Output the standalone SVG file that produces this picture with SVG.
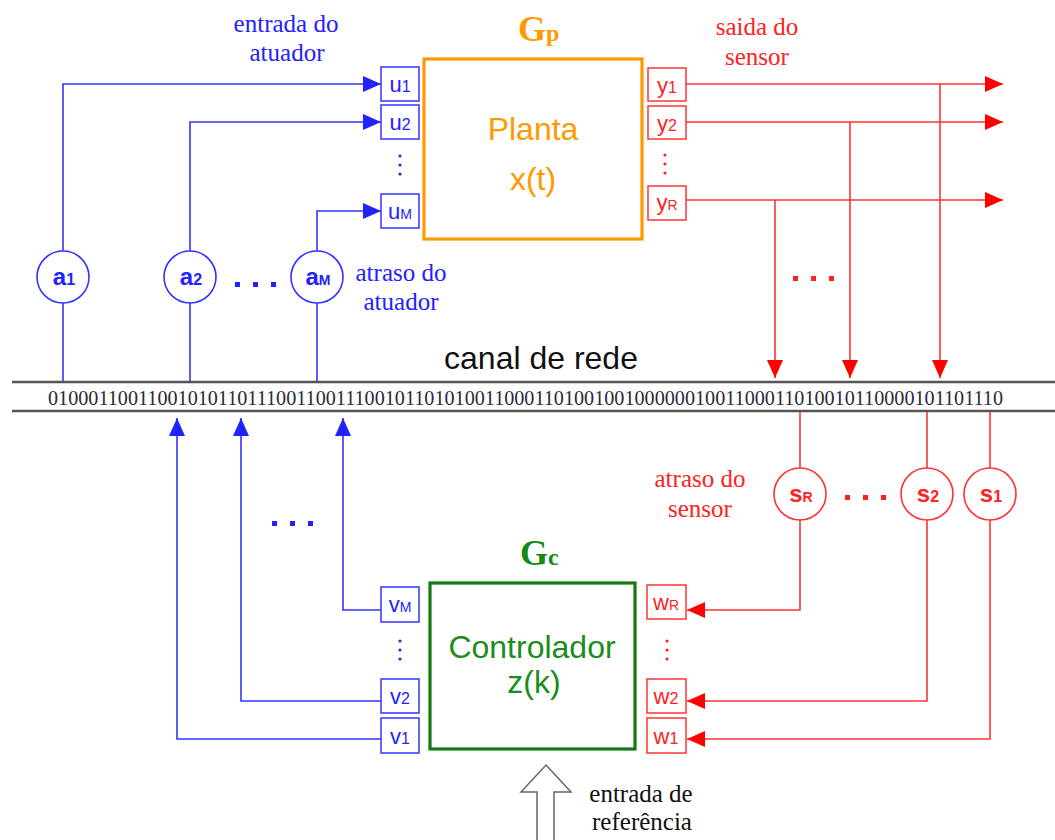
<svg xmlns="http://www.w3.org/2000/svg" width="1055" height="840" viewBox="0 0 1055 840">
<defs>
<style>
.bl{stroke:#3333ff;stroke-width:1.6;fill:none}
.rd{stroke:#ff3333;stroke-width:1.6;fill:none}
.pb{fill:#fff;stroke:#3333ff;stroke-width:1.5}
.pr{fill:#fff;stroke:#ff3333;stroke-width:1.5}
.cb{fill:#fff;stroke:#3333ff;stroke-width:1.6}
.cr{fill:#fff;stroke:#ff3333;stroke-width:1.6}
.tb{fill:#2222ff;font-family:"Liberation Sans",Arial,sans-serif;font-size:22px;text-anchor:middle}
.tr{fill:#ff2222;font-family:"Liberation Sans",Arial,sans-serif;font-size:22px;text-anchor:middle}
.bold{font-weight:bold;font-size:24px}
.sub{font-size:16px}
.subc{font-size:14px}
.lab{font-family:"Liberation Serif","Times New Roman",serif;font-size:25px;text-anchor:middle}
.big{font-family:"Liberation Sans",Arial,sans-serif;font-size:32px;text-anchor:middle}
.dotb{fill:#2222ff}
.dotr{fill:#ff2222}
.chan{stroke:#555;stroke-width:2.5}
</style>
<marker id="ab" markerUnits="userSpaceOnUse" markerWidth="18" markerHeight="16" refX="18" refY="8" orient="auto"><path d="M0,0 L18,8 L0,16 z" fill="#2222ff"/></marker>
<marker id="ar" markerUnits="userSpaceOnUse" markerWidth="18" markerHeight="16" refX="18" refY="8" orient="auto"><path d="M0,0 L18,8 L0,16 z" fill="#ff0000"/></marker>
</defs>
<rect width="1055" height="840" fill="#fff"/>

<g id="connectors">
<path class="bl" d="M63,251 V84 H381" marker-end="url(#ab)"/>
<path class="bl" d="M190,251 V122 H381" marker-end="url(#ab)"/>
<path class="bl" d="M317,251 V211 H381" marker-end="url(#ab)"/>
<path class="bl" d="M63,303 V382"/>
<path class="bl" d="M190,303 V382"/>
<path class="bl" d="M317,303 V382"/>
<path class="rd" d="M686,84 H1003" marker-end="url(#ar)"/>
<path class="rd" d="M686,122 H1003" marker-end="url(#ar)"/>
<path class="rd" d="M686,200 H1003" marker-end="url(#ar)"/>
<path class="rd" d="M940,84 V378" marker-end="url(#ar)"/>
<path class="rd" d="M850,122 V378" marker-end="url(#ar)"/>
<path class="rd" d="M775,200 V378" marker-end="url(#ar)"/>
<path class="bl" d="M381,739 H177 V418" marker-end="url(#ab)"/>
<path class="bl" d="M381,701 H241 V418" marker-end="url(#ab)"/>
<path class="bl" d="M381,610 H343 V418" marker-end="url(#ab)"/>
<path class="rd" d="M800,412 V468"/>
<path class="rd" d="M927,412 V468"/>
<path class="rd" d="M990,412 V468"/>
<path class="rd" d="M800,520 V610 H687" marker-end="url(#ar)"/>
<path class="rd" d="M927,520 V701 H687" marker-end="url(#ar)"/>
<path class="rd" d="M990,520 V739 H687" marker-end="url(#ar)"/>
</g>

<g id="channel">
<line class="chan" x1="12" y1="382" x2="1055" y2="382"/>
<line class="chan" x1="12" y1="411" x2="1055" y2="411"/>
<text x="48" y="405" font-family="Liberation Serif,'Times New Roman',serif" font-size="20" fill="#2a2a3a" textLength="955" lengthAdjust="spacingAndGlyphs">010001100110010101101110011001110010110101001100011010010010000001001100011010010110000101101110</text>
<text x="541" y="369" class="big" fill="#111">canal de rede</text>
</g>

<g id="plant">
<rect x="424" y="59" width="218" height="180" fill="#fff" stroke="#ff9900" stroke-width="3.2"/>
<text x="518" y="41" font-family="Liberation Serif,'Times New Roman',serif" font-weight="bold" font-size="36" fill="#ff9900">G<tspan font-size="24">p</tspan></text>
<text x="533" y="140" class="big" fill="#ff9900">Planta</text>
<text x="533" y="190" class="big" fill="#ff9900">x(t)</text>
</g>

<g id="controller">
<rect x="430" y="583" width="205" height="166" fill="#fff" stroke="#137a13" stroke-width="3.2"/>
<text x="520" y="565" font-family="Liberation Serif,'Times New Roman',serif" font-weight="bold" font-size="36" fill="#138a13">G<tspan font-size="24">c</tspan></text>
<text x="532" y="658" class="big" fill="#1c8c1c">Controlador</text>
<text x="534" y="693" class="big" fill="#1c8c1c">z(k)</text>
</g>

<g id="u-ports">
<rect class="pb" x="381" y="67" width="38" height="34"/><text class="tb" x="400" y="92">u<tspan class="sub">1</tspan></text>
<rect class="pb" x="381" y="105" width="38" height="34"/><text class="tb" x="400" y="130">u<tspan class="sub">2</tspan></text>
<rect class="pb" x="381" y="194" width="38" height="34"/><text class="tb" x="400" y="219">u<tspan class="subc">M</tspan></text>
<circle class="dotb" cx="400" cy="156" r="1.6"/><circle class="dotb" cx="400" cy="165" r="1.6"/><circle class="dotb" cx="400" cy="174" r="1.6"/>
</g>

<g id="y-ports">
<rect class="pr" x="648" y="68" width="38" height="33"/><text class="tr" x="667" y="93">y<tspan class="sub">1</tspan></text>
<rect class="pr" x="648" y="106" width="38" height="33"/><text class="tr" x="667" y="131">y<tspan class="sub">2</tspan></text>
<rect class="pr" x="648" y="186" width="38" height="34"/><text class="tr" x="667" y="210">y<tspan class="subc">R</tspan></text>
<circle class="dotr" cx="665" cy="155" r="1.6"/><circle class="dotr" cx="665" cy="164" r="1.6"/><circle class="dotr" cx="665" cy="173" r="1.6"/>
</g>

<g id="v-ports">
<rect class="pb" x="381" y="587" width="38" height="35"/><text class="tb" x="400" y="612" font-size="19">v<tspan class="subc">M</tspan></text>
<rect class="pb" x="381" y="679" width="38" height="34"/><text class="tb" x="400" y="704">v<tspan class="sub">2</tspan></text>
<rect class="pb" x="381" y="718" width="38" height="35"/><text class="tb" x="400" y="744">v<tspan class="sub">1</tspan></text>
<circle class="dotb" cx="400" cy="641" r="1.6"/><circle class="dotb" cx="400" cy="650" r="1.6"/><circle class="dotb" cx="400" cy="659" r="1.6"/>
</g>

<g id="w-ports">
<rect class="pr" x="647" y="585" width="39" height="34"/><text class="tr" x="666" y="610" font-size="19">w<tspan class="subc">R</tspan></text>
<rect class="pr" x="647" y="679" width="39" height="34"/><text class="tr" x="666" y="704" font-size="20">w<tspan class="sub">2</tspan></text>
<rect class="pr" x="647" y="718" width="39" height="35"/><text class="tr" x="666" y="744" font-size="20">w<tspan class="sub">1</tspan></text>
<circle class="dotr" cx="667" cy="641" r="1.6"/><circle class="dotr" cx="667" cy="650" r="1.6"/><circle class="dotr" cx="667" cy="659" r="1.6"/>
</g>

<g id="a1"><circle class="cb" cx="63" cy="277" r="26"/><text class="tb bold" x="64" y="285">a<tspan class="sub">1</tspan></text></g>
<g id="a2"><circle class="cb" cx="190" cy="277" r="26"/><text class="tb bold" x="191" y="285">a<tspan class="sub">2</tspan></text></g>
<g id="aM"><circle class="cb" cx="317" cy="277" r="26"/><text class="tb bold" x="318" y="285">a<tspan class="subc">M</tspan></text></g>
<g id="sR"><circle class="cr" cx="800" cy="494" r="26"/><text class="tr bold" x="801" y="502">s<tspan class="subc">R</tspan></text></g>
<g id="s2"><circle class="cr" cx="927" cy="494" r="26"/><text class="tr bold" x="928" y="502">s<tspan class="sub">2</tspan></text></g>
<g id="s1"><circle class="cr" cx="990" cy="494" r="26"/><text class="tr bold" x="991" y="502">s<tspan class="sub">1</tspan></text></g>

<g id="ellipses">
<rect class="dotb" x="235" y="282" width="5" height="5"/><rect class="dotb" x="253" y="282" width="5" height="5"/><rect class="dotb" x="271" y="282" width="5" height="5"/>
<rect class="dotb" x="272" y="521" width="5" height="5"/><rect class="dotb" x="290" y="521" width="5" height="5"/><rect class="dotb" x="308" y="521" width="5" height="5"/>
<rect class="dotr" x="793" y="276" width="5" height="5"/><rect class="dotr" x="811" y="276" width="5" height="5"/><rect class="dotr" x="829" y="276" width="5" height="5"/>
<rect class="dotr" x="845" y="495" width="5" height="5"/><rect class="dotr" x="863" y="495" width="5" height="5"/><rect class="dotr" x="881" y="495" width="5" height="5"/>
</g>

<g id="labels">
<text class="lab" x="286" y="32" fill="#2222ff">entrada do</text>
<text class="lab" x="287" y="61" fill="#2222ff">atuador</text>
<text class="lab" x="401" y="281" fill="#2222ff">atraso do</text>
<text class="lab" x="401" y="310" fill="#2222ff">atuador</text>
<text class="lab" x="757" y="35" fill="#ff2222">saida do</text>
<text class="lab" x="757" y="65" fill="#ff2222">sensor</text>
<text class="lab" x="700" y="487" fill="#ff2222">atraso do</text>
<text class="lab" x="700" y="517" fill="#ff2222">sensor</text>
<text class="lab" x="641" y="802" fill="#111">entrada de</text>
<text class="lab" x="642" y="830" fill="#111">referência</text>
</g>

<g id="reference-input">
<polygon points="546,765 571,792 554,792 554,841 537,841 537,792 521,792" fill="#fff" stroke="#666" stroke-width="1.5"/>
</g>
</svg>
